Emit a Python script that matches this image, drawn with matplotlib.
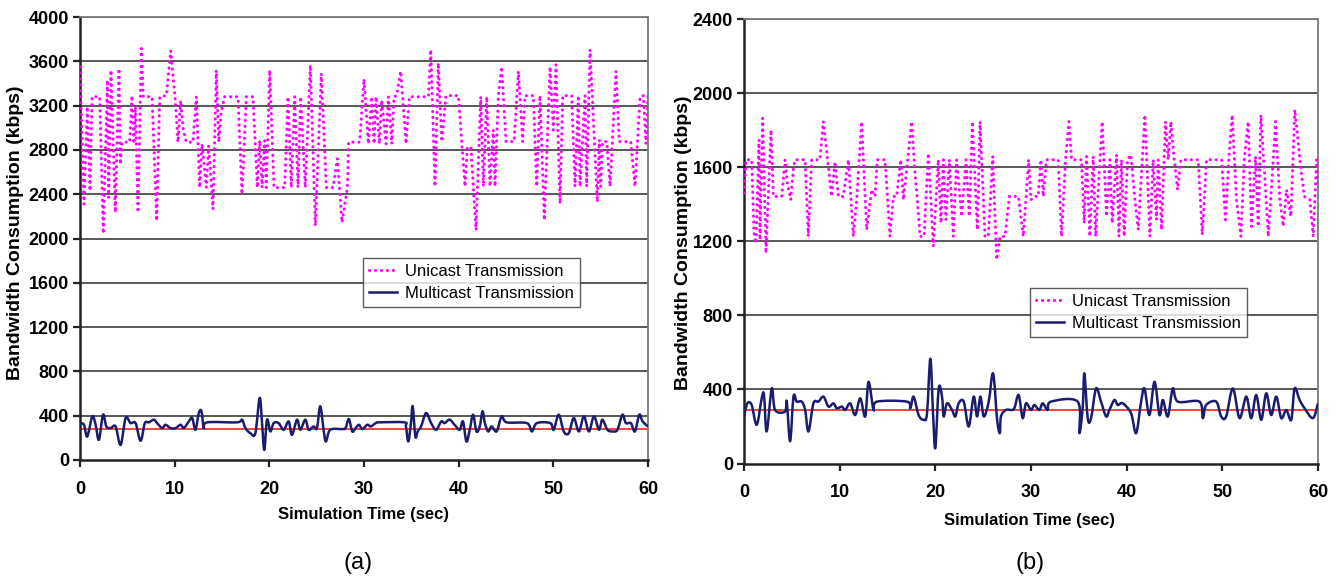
import matplotlib
matplotlib.use("Agg")
import matplotlib.pyplot as plt
from matplotlib.path import Path
from matplotlib.patches import PathPatch
from matplotlib.lines import Line2D
import numpy as np

plt.rcParams['font.family'] = ['Liberation Sans', 'DejaVu Sans']

# ---------------- data: panel (a) ----------------
uni_a_t = [0.0, 0.42, 0.77, 1.06, 1.27, 2.08, 2.46, 2.89, 3.03, 3.27, 3.73, 4.12, 4.26, 4.44, 5.25,
           5.49, 5.70, 5.85, 6.13, 6.48, 6.69, 7.61, 8.10, 8.42, 9.12, 9.58, 10.07, 10.35, 10.63,
           10.92, 11.23, 11.94, 12.29, 12.64, 12.89, 13.35, 13.59, 14.05, 14.40, 14.65, 14.93,
           15.28, 16.69, 17.11, 17.57, 18.27, 18.73, 18.98, 19.23, 19.51, 19.68, 20.04, 20.49,
           21.62, 21.97, 22.32, 22.68, 23.03, 23.31, 23.80, 24.33, 24.86, 25.49, 26.02, 26.73,
           27.18, 27.68, 28.24, 28.38, 29.54, 30.00, 30.46, 30.81, 31.06, 31.27, 31.62, 31.87,
           32.33, 32.57, 32.93, 33.17, 33.45, 33.88, 34.44, 34.79, 36.80, 37.05, 37.50, 37.85,
           38.21, 38.66, 39.97, 40.32, 40.67, 40.92, 41.30, 41.83, 42.33, 42.61, 42.96, 43.31,
           43.66, 43.84, 44.19, 44.54, 45.00, 45.85, 46.31, 46.76, 47.01, 47.89, 48.24, 48.59,
           49.05, 49.65, 50.00, 50.28, 50.71, 50.99, 51.94, 52.29, 52.64, 52.82, 53.35, 53.52,
           53.88, 54.65, 54.86, 55.00, 55.21, 55.64, 55.99, 56.62, 56.97, 58.17, 58.63, 59.16,
           59.51, 59.79, 60.0]
uni_a_v = [3550, 2310, 3190, 2430, 3280, 3280, 2045, 3430, 2370, 3520, 2235, 3535, 2670, 2870, 2870,
           3290, 2855, 3190, 2235, 3715, 3280, 3280, 2160, 3280, 3290, 3695, 3245, 2870, 3245,
           2975, 2870, 2870, 3280, 2460, 2855, 2460, 2840, 2265, 3520, 2870, 3155,
           3280, 3280, 2400, 3280, 3280, 2460, 2885, 2460, 2885, 2460, 3520, 2460,
           2460, 3280, 2460, 3280, 2460, 3280, 2460, 3565, 2115, 3490, 2460, 2460,
           2720, 2145, 2460, 2870, 2870, 3440, 2855, 3280, 2855, 3280, 2855, 3250,
           2855, 3280, 2855, 3280, 3290, 3510, 2855, 3280, 3280, 3705, 2470, 3585,
           2875, 3290, 3290, 2875, 2470, 2830, 2815, 2075, 3280, 2470, 3280, 2470,
           2980, 2470, 3290, 3550, 2875, 2875, 3510, 2875, 3290, 3290, 2470, 3290,
           2165, 3550, 2980, 3570, 2315, 3290, 3290, 2470, 3290, 2470, 3290, 2470,
           3705, 2330, 2890, 2470, 2875, 2875, 2470, 3510, 2875, 2875, 2470, 3280,
           3290, 2855, 3280]

multi_a_t = [0.0, 0.42, 0.77, 1.30, 1.65, 2.00, 2.43, 2.78, 3.23, 3.76, 4.29, 4.82, 5.34, 5.87, 6.40,
             6.85, 7.28, 7.80, 8.15, 8.68, 9.03, 9.56, 10.09, 10.62, 10.97, 11.49, 11.85, 12.20,
             12.55, 12.83, 13.08, 13.43, 16.59, 17.12, 17.47, 18.00, 18.52, 18.98, 19.23, 19.47,
             19.75, 20.11, 20.46, 20.98, 21.51, 22.04, 22.39, 22.92, 23.27, 23.80, 24.15, 24.67,
             25.03, 25.38, 25.73, 25.98, 26.43, 27.70, 28.05, 28.40, 28.76, 29.11, 29.47, 29.82,
             30.35, 30.71, 31.24, 31.60, 34.26, 34.43, 34.68, 34.96, 35.14, 35.43, 35.67, 36.03,
             36.56, 37.09, 37.62, 38.16, 38.51, 39.04, 39.57, 40.11, 40.46, 40.82, 41.17, 41.52,
             41.88, 42.23, 42.52, 42.77, 43.12, 43.48, 44.01, 44.54, 45.07, 47.20, 47.73, 48.26,
             49.68, 50.04, 50.57, 51.10, 51.63, 52.16, 52.70, 53.23, 53.76, 54.29, 54.82, 55.18,
             55.71, 56.24, 56.77, 57.30, 57.66, 58.19, 58.62, 59.08, 59.43, 60.0]
multi_a_v = [333, 318, 212, 394, 318, 182, 409, 303, 288, 303, 136, 379, 333, 333, 173,
             333, 340, 364, 333, 288, 318, 288, 288, 318, 288, 348, 379, 273,
             424, 440, 288, 340, 340, 364, 288, 242, 242, 560, 333, 91,
             364, 258, 333, 333, 273, 348, 227, 364, 273, 364, 273, 303,
             288, 485, 273, 167, 273, 279, 288, 370, 258, 288, 318, 279,
             318, 303, 333, 340, 340, 303, 167, 333, 485, 212, 258, 303,
             424, 333, 273, 348, 333, 364, 318, 273, 348, 167, 273, 409,
             258, 303, 440, 333, 258, 303, 258, 394, 340, 333, 258, 333,
             333, 273, 409, 258, 242, 379, 258, 394, 258, 394, 273, 364,
             273, 258, 273, 409, 333, 333, 258, 409, 348, 303]
ref_a = 280

# ---------------- data: panel (b) ----------------
uni_b_t = [0.0, 0.21, 0.80, 1.05, 1.25, 1.57, 1.67, 1.95, 2.30, 2.82, 3.07, 3.94, 4.29, 4.53, 4.88,
           5.16, 5.33, 6.38, 6.72, 7.07, 7.94, 8.29, 8.82, 9.16, 9.51, 9.86, 10.38, 10.91, 11.43,
           11.78, 12.30, 12.82, 13.34, 13.69, 13.94, 14.74, 15.26, 15.61, 15.96, 16.38, 16.66,
           17.00, 17.53, 17.87, 18.12, 18.40, 18.82, 19.27, 19.79, 20.31, 20.59, 20.84, 21.11,
           21.46, 21.88, 22.23, 22.75, 23.21, 23.55, 23.87, 24.39, 24.67, 25.19, 25.54, 26.00,
           26.41, 26.76, 27.28, 27.74, 28.68, 29.20, 29.75, 29.99, 30.34, 30.75, 31.03, 31.28,
           31.62, 32.84, 33.19, 33.61, 33.96, 34.24, 35.28, 35.56, 35.80, 36.15, 36.50, 36.75,
           37.44, 37.90, 38.24, 38.49, 38.94, 39.19, 39.46, 39.74, 40.09, 40.44, 40.86, 41.21,
           41.90, 42.43, 42.77, 43.12, 43.30, 43.65, 44.06, 44.34, 44.62, 44.97, 45.32, 45.67,
           47.48, 47.90, 48.35, 49.92, 50.33, 50.68, 51.03, 51.48, 51.94, 52.29, 52.70, 53.05,
           53.47, 53.75, 54.03, 54.52, 54.80, 55.32, 55.56, 56.01, 56.36, 56.71, 57.16, 57.58,
           58.11, 58.56, 59.15, 59.50, 59.85, 60.0]
uni_b_v = [1460, 1640, 1640, 1244, 1190, 1747, 1208, 1864, 1136, 1801, 1442, 1442, 1640, 1514, 1424,
           1586, 1640, 1640, 1226, 1640, 1640, 1846, 1604, 1442, 1630, 1442, 1442, 1640, 1226,
           1424, 1846, 1262, 1478, 1442, 1640, 1640, 1226, 1442, 1442, 1640, 1424,
           1586, 1846, 1568, 1424, 1226, 1226, 1675, 1172, 1640, 1298, 1640, 1316,
           1640, 1226, 1640, 1334, 1640, 1334, 1846, 1262, 1846, 1226, 1226, 1658,
           1100, 1226, 1226, 1442, 1442, 1226, 1640, 1424, 1442, 1442, 1640, 1442,
           1640, 1640, 1226, 1640, 1846, 1640, 1640, 1298, 1658, 1226, 1658, 1226,
           1846, 1334, 1640, 1298, 1667, 1226, 1640, 1226, 1640, 1667, 1424, 1262,
           1882, 1226, 1640, 1316, 1640, 1262, 1846, 1640, 1846, 1640, 1478, 1640,
           1640, 1235, 1640, 1640, 1316, 1640, 1882, 1424, 1226, 1640, 1846, 1280,
           1658, 1280, 1882, 1478, 1226, 1640, 1846, 1424, 1280, 1478, 1334, 1910,
           1640, 1442, 1424, 1226, 1640, 1500]

multi_b_t = [0.0, 0.35, 0.80, 1.33, 1.85, 2.09, 2.37, 2.90, 3.25, 4.29, 4.47, 4.82, 5.17, 5.51, 6.04,
             6.39, 6.74, 7.26, 7.78, 8.31, 8.83, 9.35, 9.70, 10.23, 10.58, 11.10, 11.62, 12.15,
             12.67, 13.02, 13.54, 13.89, 17.03, 17.38, 17.73, 18.25, 18.78, 19.13, 19.48, 19.76,
             20.00, 20.35, 20.70, 20.87, 21.22, 21.75, 22.09, 22.44, 22.97, 23.49, 24.01, 24.36,
             24.71, 25.06, 25.58, 26.04, 26.46, 26.74, 26.86, 27.38, 27.91, 28.26, 28.71, 29.13,
             29.48, 30.00, 30.35, 30.87, 31.22, 31.74, 32.09, 34.88, 35.06, 35.41, 35.58, 35.93,
             36.28, 36.80, 37.32, 37.85, 38.20, 38.72, 39.07, 39.59, 40.46, 40.99, 41.51, 41.86,
             42.38, 42.91, 43.43, 43.78, 44.30, 44.82, 45.35, 47.61, 47.96, 48.31, 49.36, 49.88,
             50.40, 51.10, 51.80, 52.50, 53.02, 53.54, 54.07, 54.59, 55.11, 55.64, 56.16, 56.68,
             57.21, 57.55, 58.08, 58.60, 59.47, 60.0]
multi_b_v = [254, 325, 316, 209, 352, 370, 173, 405, 289, 280, 334, 120, 361, 334, 334,
             289, 173, 325, 334, 361, 307, 325, 298, 307, 289, 325, 262, 352,
             254, 441, 289, 334, 334, 298, 361, 262, 236, 271, 566, 271,
             84, 405, 361, 254, 325, 289, 254, 325, 334, 200, 361, 254,
             361, 254, 334, 486, 236, 164, 254, 289, 289, 298, 370, 245,
             325, 289, 316, 289, 325, 289, 334, 334, 164, 307, 486, 245,
             245, 405, 334, 254, 289, 343, 316, 325, 271, 164, 334, 405,
             262, 441, 262, 343, 254, 405, 334, 334, 245, 316, 334, 254,
             254, 405, 245, 361, 245, 370, 236, 379, 262, 361, 245, 289,
             236, 405, 343, 298, 245, 325]
ref_b = 290

x_ticks = [0, 10, 20, 30, 40, 50, 60]
y_ticks_a = list(range(0, 4001, 400))
y_ticks_b = list(range(0, 2401, 400))

labels = ["Unicast Transmission", "Multicast Transmission"]
xlabel = "Simulation Time (sec)"
ylabel = "Bandwidth Consumption (kbps)"

# ---------------- figure ----------------
W, H = 1338, 583
fig = plt.figure(figsize=(W / 100, H / 100), dpi=100)

def px_axes(x0, y0, x1, y1):
    return fig.add_axes([x0 / W, 1 - y1 / H, (x1 - x0) / W, (y1 - y0) / H])

ax_a = px_axes(80, 17, 648, 460)
ax_b = px_axes(744, 19, 1318, 463.5)

MAG = '#ff00ff'
NAVY = '#1c1c6e'

def style(ax, yticks, xpad):
    ax.set_xlim(0, 60)
    ax.set_ylim(yticks[0], yticks[-1])
    ax.set_xticks(x_ticks)
    ax.set_yticks(yticks)
    for y in yticks[1:]:
        ax.axhline(y, color='#4a4a4a', lw=1.3, zorder=1)
    for s in ['top', 'right']:
        ax.spines[s].set_color('#7a7a7a')
        ax.spines[s].set_linewidth(1.3)
    for s in ['left', 'bottom']:
        ax.spines[s].set_color('#222222')
        ax.spines[s].set_linewidth(1.8)
    ax.tick_params(direction='out', length=5, width=1.6, colors='#222222',
                   labelsize=13, pad=3)
    ax.tick_params(axis='x', pad=xpad)
    for lab in ax.get_xticklabels() + ax.get_yticklabels():
        lab.set_fontweight('bold')
        lab.set_color('black')

def smooth_path(t, v):
    # Excel-style smoothed line: Bezier segments through the data points
    p = np.column_stack([t, v]).astype(float)
    verts = [p[0]]
    codes = [Path.MOVETO]
    n = len(p)
    for i in range(n - 1):
        p0 = p[i - 1] if i > 0 else p[i]
        p3 = p[i + 2] if i + 2 < n else p[i + 1]
        c1 = p[i] + (p[i + 1] - p0) / 6.0
        c2 = p[i + 1] - (p3 - p[i]) / 6.0
        verts += [c1, c2, p[i + 1]]
        codes += [Path.CURVE4] * 3
    return Path(verts, codes)

def draw(ax, ut, uv, mt, mv, ref):
    ax.axhline(ref, color='#ff3030', lw=1.3, zorder=2)
    ax.plot(ut, uv, color=MAG, lw=2.2, linestyle=(0, (0.05, 1.9)),
            dash_capstyle='round', zorder=3)
    ax.add_patch(PathPatch(smooth_path(mt, mv), facecolor='none', edgecolor=NAVY,
                           lw=1.8, joinstyle='round', zorder=4))
    h_u = Line2D([], [], color=MAG, lw=2.2, linestyle=(0, (0.05, 1.9)),
                 dash_capstyle='round')
    h_m = Line2D([], [], color=NAVY, lw=1.8)
    return h_u, h_m

style(ax_a, y_ticks_a, 10)
style(ax_b, y_ticks_b, 10)
hs_a = draw(ax_a, uni_a_t, uni_a_v, multi_a_t, multi_a_v, ref_a)
hs_b = draw(ax_b, uni_b_t, uni_b_v, multi_b_t, multi_b_v, ref_b)

for ax, hs, anchor in [(ax_a, hs_a, (0.498, 0.456)), (ax_b, hs_b, (0.498, 0.395))]:
    leg = ax.legend(hs, labels, loc='upper left', bbox_to_anchor=anchor, fontsize=12,
                    frameon=True, fancybox=False, edgecolor='#333333',
                    handlelength=1.7, borderpad=0.35, labelspacing=0.45,
                    handletextpad=0.5, borderaxespad=0)
    leg.get_frame().set_linewidth(1.0)
    leg.set_zorder(10)

def ftext(x, y, s, **kw):
    fig.text(x / W, 1 - y / H, s, ha='center', va='center', **kw)

ftext(16, 233, ylabel, rotation=90, fontsize=14, fontweight='bold')
ftext(683, 243, ylabel, rotation=90, fontsize=14, fontweight='bold')
ftext(364, 515, xlabel, fontsize=12, fontweight='bold')
ftext(1030, 520, xlabel, fontsize=12, fontweight='bold')
ftext(358, 563, "(a)", fontsize=17)
ftext(1030, 563, "(b)", fontsize=17)

fig.savefig("out.png", dpi=100)
